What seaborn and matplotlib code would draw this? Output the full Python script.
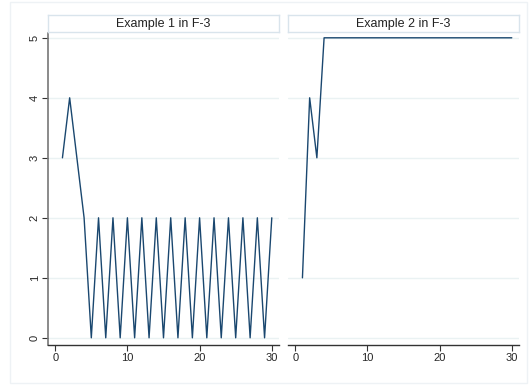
import numpy as np
import pandas as pd
import seaborn as sns
import matplotlib.pyplot as plt
from matplotlib.patches import Rectangle

# data
periods = list(range(1, 31))
example1 = [3, 4, 3, 2, 0, 2, 0, 2, 0, 2, 0, 2, 0, 2, 0, 2, 0, 2, 0, 2,
            0, 2, 0, 2, 0, 2, 0, 2, 0, 2]
example2 = [1, 4, 3, 5, 5, 5, 5, 5, 5, 5, 5, 5, 5, 5, 5, 5, 5, 5, 5, 5,
            5, 5, 5, 5, 5, 5, 5, 5, 5, 5]
panel_titles = ["Example 1 in F-3", "Example 2 in F-3"]

sns.set_style("white")
plt.rcParams['font.family'] = ['Liberation Sans', 'DejaVu Sans']

line_color = "#1a476f"
grid_color = "#eaf2f3"
box_color = "#d9e4ec"

fig = plt.figure(figsize=(5.29, 3.85), dpi=100)
W, H = 529, 385

def px_axes(x0, y0, x1, y1):
    return fig.add_axes([x0 / W, 1 - y1 / H, (x1 - x0) / W, (y1 - y0) / H])

# faint outer frame
fig.patches.append(Rectangle((10 / W, 2 / H), 517 / W, 381 / H, transform=fig.transFigure,
                             fill=False, edgecolor="#eef2f5", linewidth=1))

series = [example1, example2]
lefts = [48, 288]
for i, (vals, title) in enumerate(zip(series, panel_titles)):
    x0 = lefts[i]
    x1 = x0 + 231
    ax = px_axes(x0, 33, x1, 345)
    df = pd.DataFrame({"t": periods, "v": vals})
    sns.lineplot(data=df, x="t", y="v", ax=ax, color=line_color, linewidth=1.0)
    ax.set_xlim(-1.0, 31.0)
    ax.set_ylim(-0.12, 5.08)
    ax.set_xticks([0, 10, 20, 30])
    ax.set_yticks(range(6))
    for yv in range(6):
        ax.axhline(yv, color=grid_color, linewidth=1.0, zorder=0)
    ax.set_xlabel("")
    ax.set_ylabel("")
    for s in ["top", "right"]:
        ax.spines[s].set_visible(False)
    ax.spines["bottom"].set_color("#333333")
    ax.spines["bottom"].set_linewidth(1.0)
    ax.tick_params(axis="x", length=4, width=0.8, color="#333333", labelsize=8,
                   direction="out", bottom=True, pad=2)
    if i == 0:
        ax.spines["left"].set_color("#777777")
        ax.spines["left"].set_linewidth(1.2)
        ax.tick_params(axis="y", length=4, width=0.8, color="#333333", labelsize=8,
                       direction="out", left=True, pad=2)
        for lab in ax.get_yticklabels():
            lab.set_rotation(90)
            lab.set_va("center")
    else:
        ax.spines["left"].set_visible(False)
        ax.set_yticklabels([])
        ax.tick_params(axis="y", left=False)

    # title strip
    tax = px_axes(x0, 15, x1, 32)
    tax.set_xticks([])
    tax.set_yticks([])
    tax.set_facecolor("white")
    for s in tax.spines.values():
        s.set_color(box_color)
        s.set_linewidth(1.0)
    tax.text(0.5, 0.5, title, ha="center", va="center", fontsize=9, color="#222222",
             transform=tax.transAxes)

fig.savefig("out.png", dpi=100)
